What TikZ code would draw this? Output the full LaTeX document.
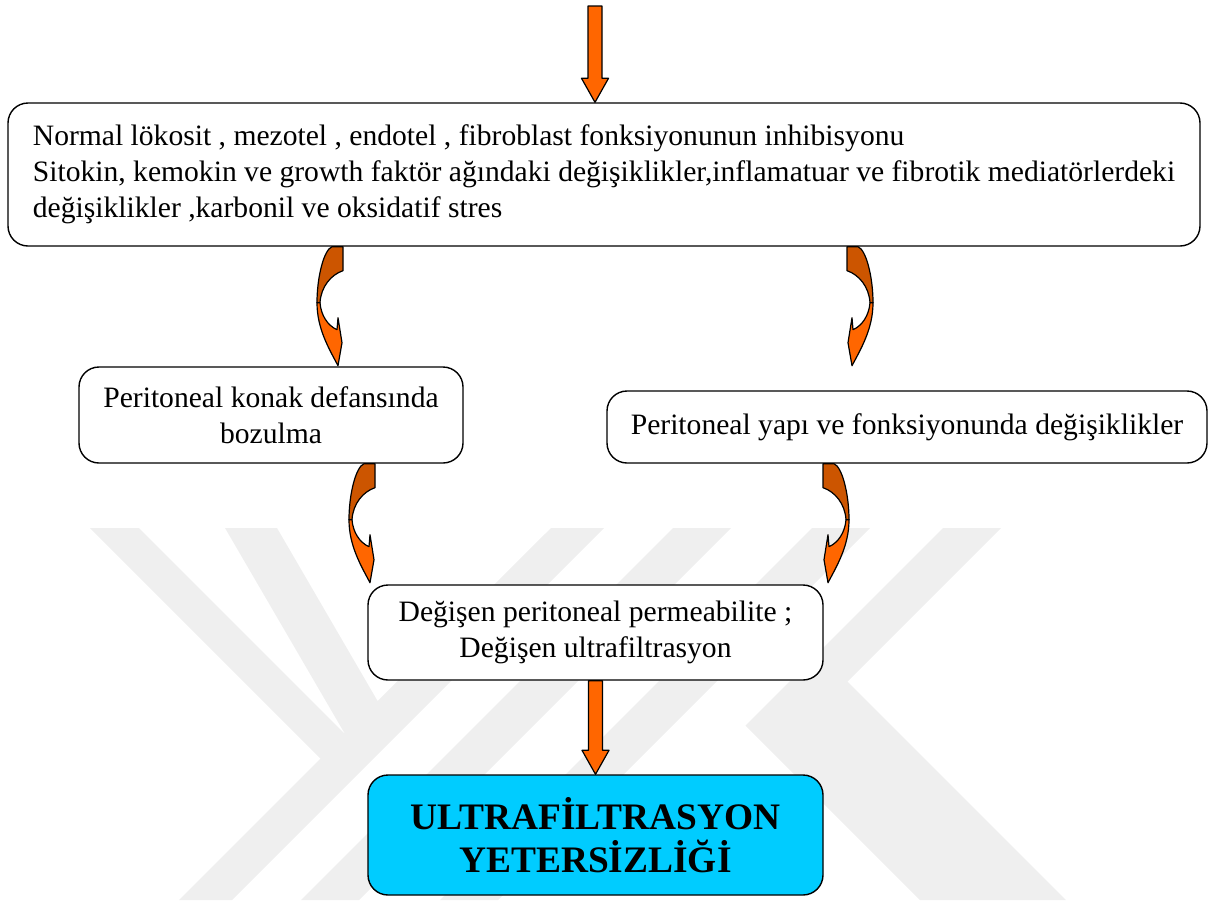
\documentclass[tikz,border=0pt]{standalone}
\usepackage{fontspec}
\setmainfont{Liberation Serif}
\usetikzlibrary{positioning,calc}

\definecolor{darkor}{HTML}{CC5500}
\definecolor{brightor}{HTML}{FF6600}
\definecolor{boxblue}{HTML}{00CCFF}
\definecolor{markgray}{HTML}{EFEFEF}

\tikzset{
	box/.style={draw, line width=1.4pt, rounded corners=20pt, fill=white, align=center, inner sep=6pt, font=\fontsize{29.6}{36}\selectfont},
	arrowbody/.style={draw=black, line width=1.2pt, fill=brightor, line join=round},
	curvl/.pic={
		% back part
		\filldraw[arrowbody, fill=darkor] (0,0) -- (0,24) .. controls (-12,28) and (-22,40) .. (-23,56) -- (-26,56) .. controls (-26,30) and (-19,3) .. (-11,0) -- cycle;
		% front part with head
		\filldraw[arrowbody] (-26,56) .. controls (-26,82) and (-14,102) .. (-5,119) -- (-1,96) -- (-5,71) -- (-6,83) .. controls (-15,79) and (-22,69) .. (-23,56) -- cycle;
	}
}

\newcommand{\blockarr}[2]{%
	\filldraw[arrowbody] ($(#1)+(-7,0)$) -- ($(#2)+(-7,-24)$) -- ($(#2)+(-13.5,-24)$) -- (#2) -- ($(#2)+(13.5,-24)$) -- ($(#2)+(7,-24)$) -- ($(#1)+(7,0)$) -- cycle;}

\begin{document}
\begin{tikzpicture}[x=1pt,y=-1pt]
	\useasboundingbox (0,0) rectangle (1208,900);

	% Watermark
	\fill[markgray] (90,528) -- (139,528) -- (345,734) -- (225,528) -- (277,528) -- (377.6,701) -- (551,528) -- (604,528) -- (232,900) -- (179,900) -- (320.5,758.5) -- cycle;
	\fill[markgray] (673,528) -- (731,528) -- (359,900) -- (301,900) -- cycle;
	\fill[markgray] (812,528) -- (870,528) -- (498,900) -- (440,900) -- cycle;
	\fill[markgray] (943,528) -- (1001,528) -- (847.5,681.5) -- (1066,900) -- (920,900) -- (745.5,725.5) -- cycle;

	% Boxes
	\node[box, align=left, minimum width=1192pt, minimum height=143pt] (topbox) at (604,174.5)
		{Normal lökosit , mezotel , endotel , fibroblast fonksiyonunun inhibisyonu\\
		Sitokin, kemokin ve growth faktör ağındaki değişiklikler,inflamatuar ve fibrotik mediatörlerdeki\\
		değişiklikler ,karbonil ve oksidatif stres};
	\node[box, minimum width=384pt, minimum height=96pt] (defbox) at (271,415) {Peritoneal konak defansında\\bozulma};
	\node[box, minimum width=600pt, minimum height=72pt] (yapibox) at (907,427) {Peritoneal yapı ve fonksiyonunda değişiklikler};
	\node[box, minimum width=455pt, minimum height=95pt] (permbox) at (595.5,632.5) {Değişen peritoneal permeabilite ;\\Değişen ultrafiltrasyon};
	\node[box, fill=boxblue, minimum width=455pt, minimum height=120pt, font=\bfseries\fontsize{37.4}{43}\selectfont] (ufbox) at (595.5,835) {ULTRAFİLTRASYON\\YETERSİZLİĞİ};

	% Straight arrows
	\coordinate (start) at (595,6);
	\coordinate (stop) at (start |- topbox.north);
	\blockarr{start}{stop}
	\blockarr{permbox.south}{ufbox.north}

	% Curved arrows
	\pic at (343,0 |- topbox.south) {curvl};
	\pic[xscale=-1] at (847,0 |- topbox.south) {curvl};
	\pic at (375,0 |- defbox.south) {curvl};
	\pic[xscale=-1] at (823,0 |- yapibox.south) {curvl};
\end{tikzpicture}
\end{document}
